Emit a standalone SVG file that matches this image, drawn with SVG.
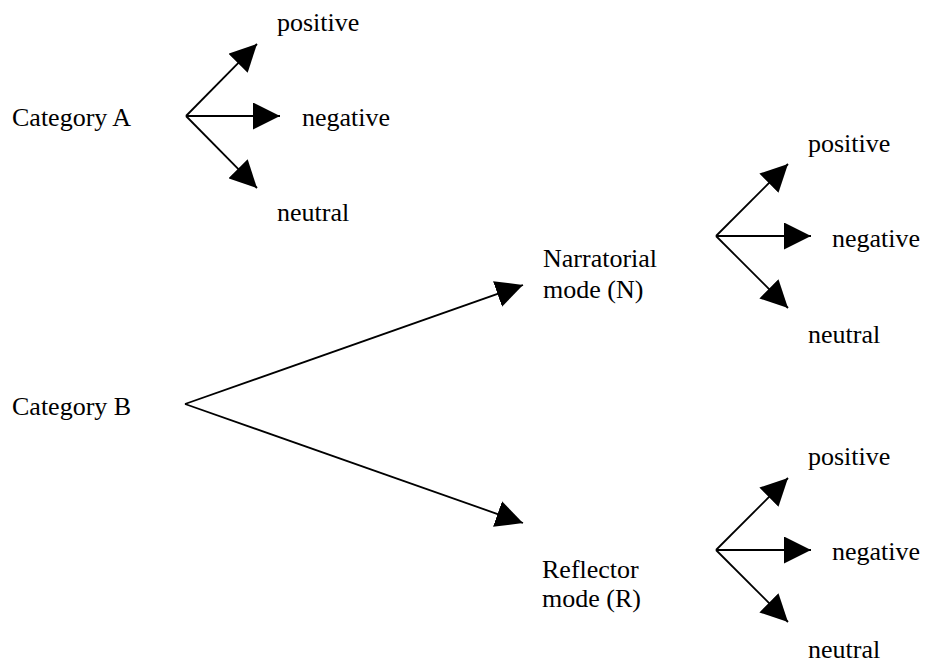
<svg xmlns="http://www.w3.org/2000/svg" width="925" height="662" viewBox="0 0 925 662">
<style>
text{font-family:'Liberation Serif',Tinos,'Times New Roman','Nimbus Roman','DejaVu Serif',serif;font-size:26px;fill:#000}
.c{stroke:#000;stroke-width:1.8;fill:none;marker-end:url(#ah)}
</style>
<defs>
<marker id="ah" markerUnits="userSpaceOnUse" viewBox="0 0 27 27" markerWidth="27" markerHeight="27" refX="27" refY="13.5" orient="auto">
<path d="M0,0 L27,13.5 L0,27 z" fill="#000"/>
</marker>
</defs>
<rect width="925" height="662" fill="#fff"/>
<g id="connectors">
<line class="c" x1="186" y1="116" x2="257" y2="44"/>
<line class="c" x1="186" y1="116" x2="280" y2="116"/>
<line class="c" x1="186" y1="116" x2="257" y2="188"/>
<line class="c" x1="185" y1="404" x2="523" y2="285"/>
<line class="c" x1="185" y1="404" x2="523" y2="523"/>
<line class="c" x1="716" y1="236" x2="788" y2="164"/>
<line class="c" x1="716" y1="236" x2="811" y2="236"/>
<line class="c" x1="716" y1="236" x2="788" y2="308"/>
<line class="c" x1="716" y1="550" x2="788" y2="478"/>
<line class="c" x1="716" y1="550" x2="811" y2="550"/>
<line class="c" x1="716" y1="550" x2="788" y2="622"/>
</g>
<g font-family="Liberation Serif, serif" font-size="26">
<g id="catA"><text x="12" y="126">Category A</text></g>
<g id="catA-pos"><text x="277" y="31">positive</text></g>
<g id="catA-neg"><text x="302" y="126">negative</text></g>
<g id="catA-neu"><text x="277" y="221">neutral</text></g>
<g id="catB"><text x="12" y="415">Category B</text></g>
<g id="modeN"><text x="543" y="267">Narratorial</text><text x="543" y="298">mode (N)</text></g>
<g id="N-pos"><text x="808" y="152">positive</text></g>
<g id="N-neg"><text x="832" y="247">negative</text></g>
<g id="N-neu"><text x="808" y="343">neutral</text></g>
<g id="modeR"><text x="542" y="578">Reflector</text><text x="542" y="607">mode (R)</text></g>
<g id="R-pos"><text x="808" y="465">positive</text></g>
<g id="R-neg"><text x="832" y="560">negative</text></g>
<g id="R-neu"><text x="808" y="658">neutral</text></g>
</g>
</svg>
